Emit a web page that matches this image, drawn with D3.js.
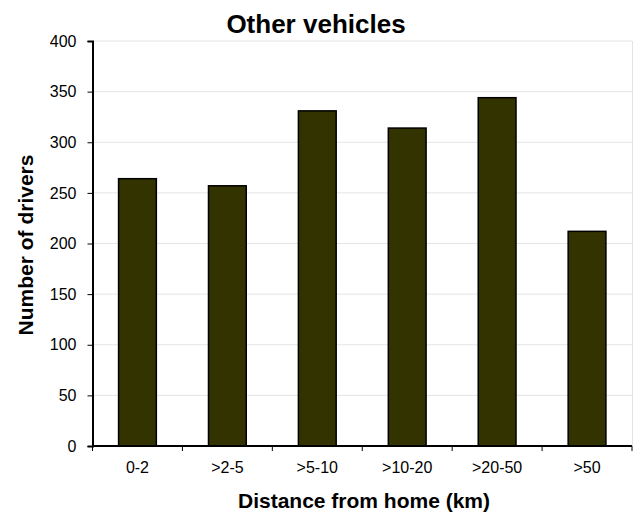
<!DOCTYPE html>
<html>
<head>
<meta charset="utf-8">
<script src="https://cdn.jsdelivr.net/npm/d3@7"></script>
<style>
  body { margin: 0; background: #fff; }
  text { font-family: "Liberation Sans", Arial, sans-serif; }
</style>
</head>
<body>
<svg id="chart"></svg>
<script>
var categories = ["0-2", ">2-5", ">5-10", ">10-20", ">20-50", ">50"];
var drivers = [264, 257, 331, 314, 344, 212];
var yTicks = [0, 50, 100, 150, 200, 250, 300, 350, 400];

var W = 634, H = 513;
var margin = { left: 92.5, right: 2, top: 41, bottom: 67 };

var svg = d3.select("#chart").attr("width", W).attr("height", H);

var x = d3.scaleBand()
  .domain(categories)
  .range([margin.left, W - margin.right])
  .paddingInner(0.58)
  .paddingOuter(0.29);

var y = d3.scaleLinear().domain([0, 400]).range([H - margin.bottom, margin.top]);

// gridlines
svg.append("g")
  .selectAll("line")
  .data(yTicks.slice(1))
  .enter()
  .append("line")
  .attr("x1", margin.left)
  .attr("x2", W - margin.right)
  .attr("y1", d => y(d))
  .attr("y2", d => y(d))
  .style("stroke", "#e4e4e4")
  .style("stroke-width", 1);

// right border of plot area
svg.append("line")
  .attr("x1", W - margin.right + 0.5).attr("x2", W - margin.right + 0.5)
  .attr("y1", margin.top).attr("y2", H - margin.bottom)
  .style("stroke", "#e4e4e4");

// bars
svg.append("g")
  .selectAll("rect")
  .data(categories)
  .enter()
  .append("rect")
  .attr("x", d => x(d))
  .attr("width", x.bandwidth())
  .attr("y", (d, i) => y(drivers[i]))
  .attr("height", (d, i) => y(0) - y(drivers[i]))
  .style("fill", "#333300")
  .style("stroke", "#000")
  .style("stroke-width", 1.5);

// y axis
var yAxis = svg.append("g")
  .attr("transform", `translate(${margin.left},0)`)
  .call(d3.axisLeft(y).tickValues(yTicks).tickSize(5).tickPadding(11));
yAxis.select(".domain").style("stroke-width", 2);
yAxis.selectAll("text")
  .style("font-size", "16px")
  .style("font-family", "'Liberation Sans', Arial, sans-serif")
  .style("fill", "#000");

// x axis with ticks at band boundaries
var xAxisG = svg.append("g")
  .attr("transform", `translate(0,${y(0)})`);
var step = x.step();
var bounds = categories.map(c => x(c) - x.paddingOuter() * step).concat([W - margin.right]);
xAxisG.append("line")
  .attr("x1", margin.left).attr("x2", W - margin.right)
  .style("stroke", "#000").style("stroke-width", 2);
xAxisG.selectAll(".tk")
  .data(bounds)
  .enter()
  .append("line")
  .attr("class", "tk")
  .attr("x1", d => d).attr("x2", d => d)
  .attr("y1", 0).attr("y2", 5)
  .style("stroke", "#000");
xAxisG.selectAll(".lbl")
  .data(categories)
  .enter()
  .append("text")
  .attr("class", "lbl")
  .attr("x", d => x(d) + x.bandwidth() / 2)
  .attr("y", 27)
  .attr("text-anchor", "middle")
  .style("font-size", "16px")
  .text(d => d);

// title
svg.append("text")
  .attr("x", 316)
  .attr("y", 33)
  .attr("text-anchor", "middle")
  .style("font-size", "26px")
  .style("font-weight", "bold")
  .text("Other vehicles");

// axis titles
svg.append("text")
  .attr("x", 364)
  .attr("y", 508)
  .attr("text-anchor", "middle")
  .style("font-size", "21px")
  .style("font-weight", "bold")
  .text("Distance from home (km)");

svg.append("text")
  .attr("transform", "translate(33,245) rotate(-90)")
  .attr("text-anchor", "middle")
  .style("font-size", "21px")
  .style("font-weight", "bold")
  .text("Number of drivers");
</script>
</body>
</html>
